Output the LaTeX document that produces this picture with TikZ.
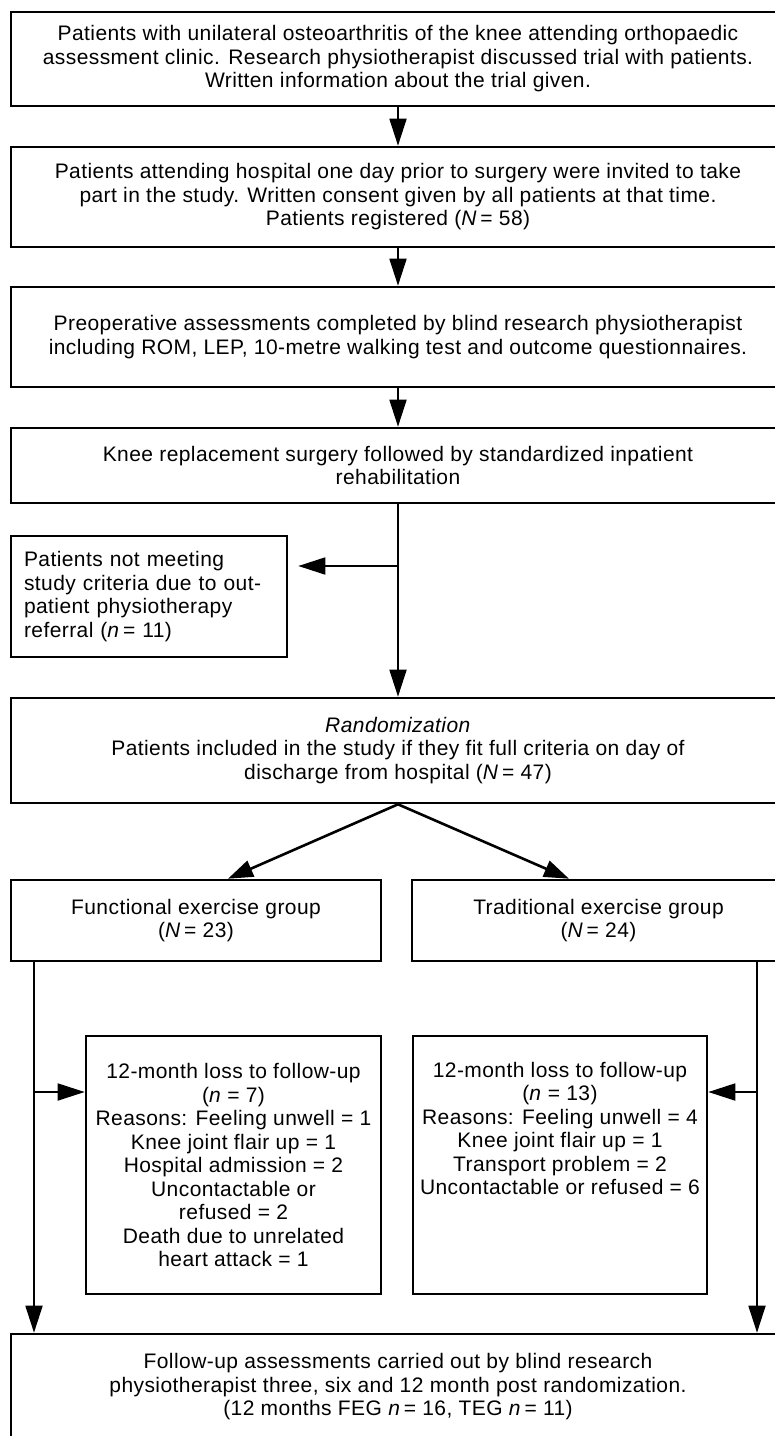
\documentclass[tikz,border=0pt]{standalone}
\usepackage{fontspec}
\setmainfont{Liberation Sans}[LetterSpace=2]
\usetikzlibrary{arrows.meta}
\begin{document}
\begin{tikzpicture}[x=1pt,y=-1pt,
  every node/.style={font=\fontsize{21}{23.5}\selectfont, text=black},
  flowbox/.style={draw=black, line width=2.6pt, inner sep=0pt, align=center},
  conn/.style={draw=black, line width=1.8pt},
  arr/.style={conn, -{Triangle[length=27pt,width=17pt]}},
  splitarr/.style={draw=black, line width=2.6pt, -{Triangle[length=25pt,width=17pt]}}]
\useasboundingbox (0,0) rectangle (775,1436);
\fill[white] (0,0) rectangle (775,1436);
\clip (0,0) rectangle (775,1436);

\node[flowbox, minimum width=774, minimum height=94] (b1) at (398,59)
 {Patients with unilateral osteoarthritis of the knee attending orthopaedic\\
  assessment clinic. Research physiotherapist discussed trial with patients.\\
  Written information about the trial given.};
\node[flowbox, minimum width=774, minimum height=100] (b2) at (398,197)
 {Patients attending hospital one day prior to surgery were invited to take\\
  part in the study. Written consent given by all patients at that time.\\
  Patients registered (\textit{N}\,= 58)};
\node[flowbox, minimum width=774, minimum height=100] (b3) at (398,337)
 {Preoperative assessments completed by blind research physiotherapist\\
  including ROM, LEP, 10-metre walking test and outcome questionnaires.};
\node[flowbox, minimum width=774, minimum height=75] (b4) at (398,465.5)
 {Knee replacement surgery followed by standardized inpatient\\
  rehabilitation};
\node[flowbox, align=left, text width=250, inner xsep=13, minimum height=121] (sm) at (149,596.5)
 {Patients not meeting\\
  study criteria due to out-\\
  patient physiotherapy\\
  referral (\textit{n}\,= 11)};
\node[flowbox, minimum width=774, minimum height=105] (b5) at (398,750.5)
 {\textit{Randomization}\\
  Patients included in the study if they fit full criteria on day of\\
  discharge from hospital (\textit{N}\,= 47)};
\node[flowbox, minimum width=370, minimum height=81] (g1) at (196,920.5)
 {Functional exercise group\\ (\textit{N}\,= 23)};
\node[flowbox, minimum width=373, minimum height=81] (g2) at (598.5,920.5)
 {Traditional exercise group\\ (\textit{N}\,= 24)};
\node[flowbox, minimum width=295, minimum height=258] (l1) at (233.5,1165)
 {12-month loss to follow-up\\
  (\textit{n} = 7)\\
  Reasons: Feeling unwell = 1\\
  Knee joint flair up = 1\\
  Hospital admission = 2\\
  Uncontactable or\\
  refused = 2\\
  Death due to unrelated\\
  heart attack = 1};
\node[flowbox, minimum width=294, minimum height=258] (l2) at (560,1165) {};
\node[anchor=north, align=center, inner sep=0pt] (l2t) at ([yshift=-27pt]l2.north)
 {12-month loss to follow-up\\
  (\textit{n} = 13)\\
  Reasons: Feeling unwell = 4\\
  Knee joint flair up = 1\\
  Transport problem = 2\\
  Uncontactable or refused = 6};
\node[flowbox, minimum width=774, minimum height=106] (bb) at (398,1387)
 {Follow-up assessments carried out by blind research\\
  physiotherapist three, six and 12 month post randomization.\\
  (12 months FEG \textit{n}\,= 16, TEG \textit{n}\,= 11)};

% main spine
\draw[arr] (b1.south) -- (b2.north);
\draw[arr] (b2.south) -- (b3.north);
\draw[arr] (b3.south) -- (b4.north);
\draw[arr] (b4.south) -- (b5.north);
\coordinate (br) at (398,566);
\draw[arr, shorten >=10pt] (br) -- (br -| sm.east);

% split
\draw[splitarr] (b5.south) -- ([xshift=32pt]g1.north);
\draw[splitarr] (b5.south) -- ([xshift=-29.5pt]g2.north);

% side lines
\coordinate (lv) at (34,1092);
\coordinate (rv) at (757,1092);
\draw[arr] (g1.south -| lv) -- (bb.north -| lv);
\draw[arr] (lv) -- (lv -| l1.west);
\draw[arr] (g2.south -| rv) -- (bb.north -| rv);
\draw[arr] (rv) -- (rv -| l2.east);
\end{tikzpicture}
\end{document}
